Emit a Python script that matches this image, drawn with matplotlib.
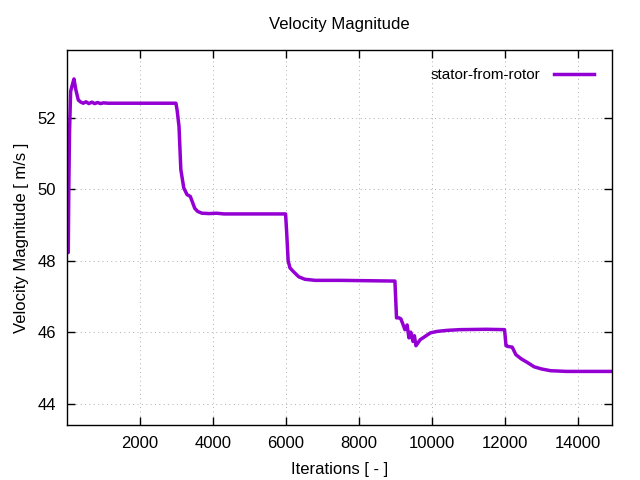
import matplotlib
matplotlib.use("Agg")
import matplotlib.pyplot as plt

plt.rcParams['font.family'] = ['Liberation Sans', 'DejaVu Sans']

# values
iterations = [1, 10, 20, 36, 50, 70, 100, 140, 192, 240, 310, 380, 446, 520, 600, 680, 760, 840, 920,
              1000, 1123, 2000, 2986, 3020, 3070, 3120, 3200, 3290, 3380, 3500, 3580, 3700, 3900,
              4100, 4300, 5000, 5990, 6020, 6060, 6110, 6200, 6350, 6520, 6800, 7500, 8986,
              9030, 9100, 9150, 9210, 9260, 9320, 9370, 9420, 9480, 9520, 9562, 9680, 9960,
              10140, 10420, 10767, 11500, 11990, 12030, 12080, 12200, 12300, 12450, 12600,
              12800, 13000, 13250, 13700, 14000, 14930]
velocity = [49.3, 48.9, 48.6, 48.23, 50.0, 51.6, 52.74, 52.9, 53.09, 52.8, 52.5, 52.44, 52.41, 52.45,
            52.4, 52.44, 52.4, 52.43, 52.4, 52.42, 52.41, 52.41, 52.41, 52.2, 51.76, 50.55, 50.04,
            49.85, 49.8, 49.47, 49.38, 49.33, 49.32, 49.33, 49.31, 49.31, 49.31, 48.8, 48.0,
            47.8, 47.7, 47.55, 47.48, 47.45, 47.45, 47.43,
            46.4, 46.4, 46.37, 46.21, 46.07, 46.2, 45.84, 46.0, 45.74, 45.9, 45.62, 45.79, 45.98,
            46.02, 46.05, 46.07, 46.08, 46.07, 45.62, 45.6, 45.58, 45.37, 45.25, 45.16,
            45.03, 44.97, 44.92, 44.9, 44.9, 44.9]

fig = plt.figure(figsize=(6.4, 4.8), dpi=100)
ax = fig.add_axes([0.1047, 0.1146, 0.8513, 0.7812])

ax.plot(iterations, velocity, color='#9400d3', linewidth=2.5, label='stator-from-rotor')

ax.set_xlim(1, 14930)
ax.set_ylim(43.4, 53.9)
ax.set_xticks([2000, 4000, 6000, 8000, 10000, 12000, 14000])
ax.set_yticks([44, 46, 48, 50, 52])

ax.grid(True, color='#b0b0b0', linestyle=(0, (1, 3.5)), linewidth=0.7)
ax.tick_params(direction='in', top=True, right=True, length=6, width=1, labelsize=12, pad=8)
for s in ax.spines.values():
    s.set_linewidth(1)

ax.set_title('Velocity Magnitude', fontsize=12, pad=15)
ax.set_xlabel('Iterations [ - ]', fontsize=12, labelpad=8)
ax.set_ylabel('Velocity Magnitude [ m/s ]', fontsize=12, labelpad=6)

ax.legend(loc='upper right', frameon=False, markerfirst=False, fontsize=11,
          handlelength=2.6, handletextpad=0.9, borderaxespad=0.8)

plt.savefig('out.png', dpi=100)
